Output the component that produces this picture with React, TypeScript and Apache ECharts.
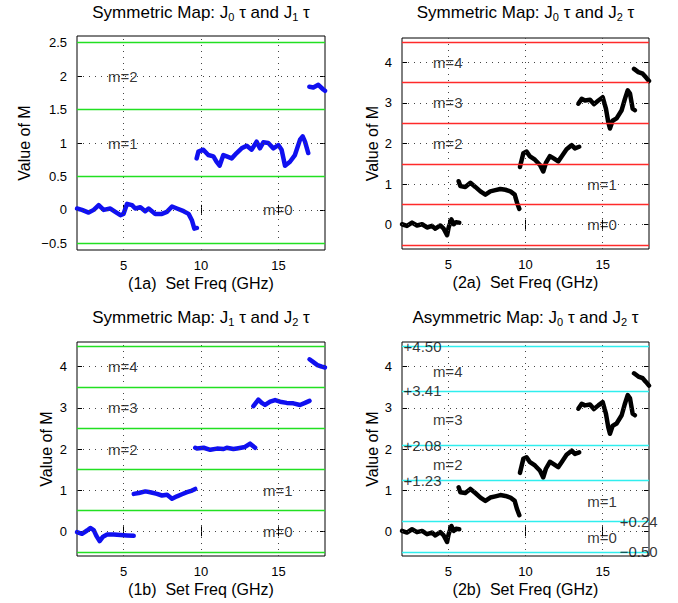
import React, { useEffect, useRef } from "react";
import * as echarts from "echarts";

// ---------- data ----------
const xTicks = [5, 10, 15];

const yTicks1a = [-0.5, 0, 0.5, 1, 1.5, 2, 2.5];
const yTicks4 = [0, 1, 2, 3, 4];

const bounds1a = [-0.5, 0.5, 1.5, 2.5];
const bounds2a = [-0.5, 0.5, 1.5, 2.5, 3.5, 4.5];
const bounds1b = [-0.5, 0.5, 1.5, 2.5, 3.5, 4.5];
const bounds2b = [-0.5, 0.24, 1.23, 2.08, 3.41, 4.5];

const boundLabelsLeft2b: [string, number, number][] = [
  ["+4.50", 2.1, 4.5],
  ["+3.41", 2.1, 3.41],
  ["+2.08", 2.1, 2.08],
  ["+1.23", 2.1, 1.23],
];
const boundLabelsRight2b: [string, number, number][] = [
  ["+0.24", 16.1, 0.24],
  ["\u22120.50", 16.1, -0.5],
];

const mLabels1a: [string, number, number][] = [
  ["m=2", 4, 2],
  ["m=1", 4, 1],
  ["m=0", 14, 0],
];
const mLabels2a: [string, number, number][] = [
  ["m=4", 4, 4],
  ["m=3", 4, 3],
  ["m=2", 4, 2],
  ["m=1", 14, 1],
  ["m=0", 14, 0],
];
const mLabels1b: [string, number, number][] = [
  ["m=4", 4, 4],
  ["m=3", 4, 3],
  ["m=2", 4, 2],
  ["m=1", 14, 1],
  ["m=0", 14, 0],
];
const mLabels2b: [string, number, number][] = [
  ["m=4", 4, 3.88],
  ["m=3", 4, 2.72],
  ["m=2", 4, 1.63],
  ["m=1", 14, 0.72],
  ["m=0", 14, -0.15],
];

// J0 tau & J1 tau (1a)
const seg1a_0 = [[2.0,0.02],[2.32,0.0],[2.75,-0.04],[3.08,0],[3.4,0.07],[3.72,0],[4.15,0.02],[4.47,-0.03],[4.8,-0.08],[5.0,-0.06],[5.23,0.09],[5.55,0.07],[5.76,0.02],[6.09,0.04],[6.4,-0.02],[6.62,0.02],[7.05,-0.06],[7.48,-0.06],[7.8,-0.03],[8.13,0.05],[8.45,0.02],[8.88,-0.02],[9.2,-0.06],[9.42,-0.16],[9.57,-0.28],[9.74,-0.27]];
const seg1a_1 = [[9.72,0.77],[9.83,0.87],[10.15,0.9],[10.47,0.82],[10.8,0.8],[11.0,0.72],[11.2,0.66],[11.44,0.82],[11.66,0.8],[11.98,0.77],[12.3,0.85],[12.62,0.92],[12.95,0.96],[13.27,0.9],[13.59,1.02],[13.8,0.92],[14.02,1.01],[14.34,1.0],[14.67,0.92],[14.99,0.97],[15.2,0.9],[15.42,0.66],[15.74,0.72],[16.06,0.82],[16.39,1.05],[16.56,1.1],[16.71,1.02],[16.92,0.85]];
const seg1a_2 = [[16.99,1.84],[17.25,1.83],[17.57,1.87],[17.89,1.8],[18,1.78]];

// J0 tau & J2 tau (2a, 2b)
const seg2a_0 = [[2.0,0.01],[2.32,-0.03],[2.65,0.05],[2.97,-0.02],[3.3,0.01],[3.62,-0.07],[3.94,-0.03],[4.16,-0.1],[4.48,-0.02],[4.7,-0.1],[4.92,-0.26],[5.02,-0.07],[5.2,0.13],[5.35,0.01],[5.5,0.06],[5.71,0.05]];
const seg2a_1 = [[5.67,1.07],[5.78,0.95],[6.1,0.93],[6.43,1.03],[6.75,0.93],[7.08,0.82],[7.4,0.74],[7.72,0.82],[8.05,0.85],[8.37,0.88],[8.7,0.86],[9.02,0.82],[9.3,0.74],[9.45,0.54],[9.6,0.39]];
const seg2a_2 = [[9.64,1.42],[9.86,1.76],[10.07,1.8],[10.29,1.68],[10.61,1.6],[10.94,1.47],[11.15,1.31],[11.32,1.52],[11.58,1.69],[11.8,1.64],[12.12,1.56],[12.34,1.68],[12.66,1.86],[12.99,1.96],[13.2,1.88],[13.48,1.92]];
const seg2a_3 = [[13.42,2.98],[13.64,3.1],[13.85,3.06],[14.18,3.08],[14.43,2.97],[14.72,3.06],[15.0,3.14],[15.21,2.86],[15.36,2.53],[15.47,2.37],[15.64,2.56],[15.9,2.62],[16.23,2.82],[16.44,3.1],[16.62,3.31],[16.77,3.23],[16.94,2.86],[17.09,2.82]];
const seg2a_4 = [[17.03,3.84],[17.31,3.76],[17.59,3.72],[17.8,3.63],[18,3.54]];

// J1 tau & J2 tau (1b)
const seg1b_0 = [[2.0,-0.02],[2.32,-0.06],[2.65,0.02],[2.86,0.08],[3.08,0.03],[3.25,-0.11],[3.46,-0.24],[3.68,-0.13],[3.94,-0.08],[4.37,-0.08],[4.8,-0.09],[5.23,-0.1],[5.66,-0.11]];
const seg1b_1 = [[5.66,0.91],[5.98,0.93],[6.41,0.97],[6.73,0.95],[7.16,0.91],[7.48,0.87],[7.81,0.89],[8.13,0.79],[8.45,0.85],[8.77,0.9],[9.1,0.95],[9.42,0.99],[9.63,1.03]];
const seg1b_2 = [[9.63,2.03],[9.74,2.01],[10.17,2.03],[10.6,1.98],[11.03,2.01],[11.46,2.0],[11.66,2.03],[12.09,2.0],[12.41,2.02],[12.84,2.05],[13.17,2.13],[13.49,2.03]];
const seg1b_3 = [[13.38,3.04],[13.7,3.2],[13.92,3.12],[14.13,3.07],[14.46,3.15],[14.78,3.19],[15.1,3.15],[15.53,3.12],[15.96,3.11],[16.39,3.07],[16.71,3.12],[17.0,3.17]];
const seg1b_4 = [[17.0,4.18],[17.25,4.11],[17.51,4.04],[17.79,4.0],[18,3.98]];

// ---------- styling ----------
const FONT = "'Liberation Sans', Arial, Helvetica, sans-serif";
const BLUE = "#1010f0";
const BLACK = "#000000";
const GREEN = "#22e022";
const RED = "#ff2a2a";
const CYAN = "#30eeee";

interface Panel {
  title: [string, string, string, string];
  xName: string;
  yMin: number;
  yMax: number;
  yTicks: number[];
  bounds: number[];
  boundColor: string;
  segs: number[][][];
  color: string;
  mLabels: [string, number, number][];
  extraLabels: [string, number, number][];
  grid: { left: number; top: number; width: number; height: number };
  yNameGap: number;
  titleTop: number;
}

const panels: Panel[] = [
  {
    title: ["Symmetric Map: J", "0", " \u03c4 and J", "1"],
    xName: "(1a)  Set Freq (GHz)",
    yMin: -0.6, yMax: 2.6, yTicks: yTicks1a,
    bounds: bounds1a, boundColor: GREEN,
    segs: [seg1a_0, seg1a_1, seg1a_2], color: BLUE,
    mLabels: mLabels1a, extraLabels: [],
    grid: { left: 77, top: 36, width: 248, height: 214 },
    yNameGap: 45, titleTop: 2,
  },
  {
    title: ["Symmetric Map: J", "0", " \u03c4 and J", "2"],
    xName: "(2a)  Set Freq (GHz)",
    yMin: -0.6, yMax: 4.6, yTicks: yTicks4,
    bounds: bounds2a, boundColor: RED,
    segs: [seg2a_0, seg2a_1, seg2a_2, seg2a_3, seg2a_4], color: BLACK,
    mLabels: mLabels2a, extraLabels: [],
    grid: { left: 402, top: 38, width: 247, height: 211 },
    yNameGap: 20, titleTop: 2,
  },
  {
    title: ["Symmetric Map: J", "1", " \u03c4 and J", "2"],
    xName: "(1b)  Set Freq (GHz)",
    yMin: -0.6, yMax: 4.6, yTicks: yTicks4,
    bounds: bounds1b, boundColor: GREEN,
    segs: [seg1b_0, seg1b_1, seg1b_2, seg1b_3, seg1b_4], color: BLUE,
    mLabels: mLabels1b, extraLabels: [],
    grid: { left: 77, top: 342, width: 248, height: 214 },
    yNameGap: 23, titleTop: 307,
  },
  {
    title: ["Asymmetric Map: J", "0", " \u03c4 and J", "2"],
    xName: "(2b)  Set Freq (GHz)",
    yMin: -0.6, yMax: 4.6, yTicks: yTicks4,
    bounds: bounds2b, boundColor: CYAN,
    segs: [seg2a_0, seg2a_1, seg2a_2, seg2a_3, seg2a_4], color: BLACK,
    mLabels: mLabels2b,
    extraLabels: [...boundLabelsLeft2b, ...boundLabelsRight2b],
    grid: { left: 402, top: 342, width: 247, height: 214 },
    yNameGap: 20, titleTop: 307,
  },
];

const fmtY = (v: number) => {
  const r = Math.round(v * 100) / 100;
  return r < 0 ? "\u2212" + String(Math.abs(r)) : String(r);
};

function buildOption() {
  const grid: any[] = [];
  const xAxis: any[] = [];
  const yAxis: any[] = [];
  const title: any[] = [];
  const series: any[] = [];

  panels.forEach((p, i) => {
    grid.push({
      ...p.grid,
      show: true,
      borderColor: "#000",
      borderWidth: 1,
      backgroundColor: "transparent",
      containLabel: false,
    });
    xAxis.push({
      type: "value",
      gridIndex: i,
      min: 2,
      max: 18,
      name: p.xName,
      nameLocation: "middle",
      nameGap: 25,
      nameTextStyle: { fontFamily: FONT, fontSize: 16, color: "#000" },
      axisLine: { show: false },
      splitLine: { show: false },
      axisTick: { show: true, inside: true, length: 5, customValues: xTicks, lineStyle: { color: "#000" } },
      axisLabel: { customValues: xTicks, fontFamily: FONT, fontSize: 13, color: "#000", margin: 9 },
    });
    yAxis.push({
      type: "value",
      gridIndex: i,
      min: p.yMin,
      max: p.yMax,
      name: "Value of M",
      nameLocation: "middle",
      nameGap: p.yNameGap,
      nameTextStyle: { fontFamily: FONT, fontSize: 16, color: "#000" },
      axisLine: { show: false },
      splitLine: { show: false },
      axisTick: { show: true, inside: true, length: 5, customValues: p.yTicks, lineStyle: { color: "#000" } },
      axisLabel: { customValues: p.yTicks, fontFamily: FONT, fontSize: 13, color: "#000", margin: 10, formatter: fmtY },
    });
    const cx = p.grid.left + p.grid.width / 2;
    title.push({
      text: `{t|${p.title[0]}}{s|${p.title[1]}}{t|${p.title[2]}}{s|${p.title[3]}}{t| \u03c4}`,
      left: cx,
      top: p.titleTop,
      padding: 0,
      textAlign: "center",
      textStyle: {
        fontWeight: "normal",
        rich: {
          t: { fontFamily: FONT, fontSize: 17, fontWeight: "normal", color: "#000", lineHeight: 20 },
          s: { fontFamily: FONT, fontSize: 11, fontWeight: "normal", color: "#000", lineHeight: 8, verticalAlign: "bottom" },
        },
      },
    });

    // dotted grid
    series.push({
      type: "line",
      xAxisIndex: i,
      yAxisIndex: i,
      data: [[2, p.yMin]],
      showSymbol: false,
      symbolSize: 0,
      lineStyle: { opacity: 0 },
      silent: true,
      z: 1,
      markLine: {
        silent: true,
        symbol: ["none", "none"],
        label: { show: false },
        lineStyle: { type: [1, 5], color: "#444", width: 1 },
        data: [
          ...xTicks.map((x) => ({ xAxis: x })),
          ...p.yTicks.map((y) => ({ yAxis: y })),
        ],
      },
    });
    // coloured boundary lines
    series.push({
      type: "line",
      xAxisIndex: i,
      yAxisIndex: i,
      data: [[2, p.yMin]],
      showSymbol: false,
      symbolSize: 0,
      lineStyle: { opacity: 0 },
      silent: true,
      z: 2,
      markLine: {
        silent: true,
        symbol: ["none", "none"],
        label: { show: false },
        lineStyle: { type: "solid", color: p.boundColor, width: 1.4 },
        data: p.bounds.map((y) => ({ yAxis: y })),
      },
    });
    // data segments
    p.segs.forEach((seg) => {
      series.push({
        type: "line",
        xAxisIndex: i,
        yAxisIndex: i,
        data: seg,
        showSymbol: false,
        symbol: "none",
        z: 3,
        lineStyle: { color: p.color, width: 4.5, cap: "round", join: "round" },
      });
    });
    // text labels
    const labels = [...p.mLabels, ...p.extraLabels];
    series.push({
      type: "scatter",
      xAxisIndex: i,
      yAxisIndex: i,
      symbolSize: 0,
      silent: true,
      z: 10,
      data: labels.map((l) => ({ value: [l[1], l[2]], name: l[0] })),
      label: {
        show: true,
        position: "right",
        distance: 0,
        formatter: (prm: any) => prm.name,
        fontFamily: FONT,
        fontSize: 15,
        color: "#000",
      },
    });
  });

  // mirrored top / right axes (ticks only, like a boxed plot)
  panels.forEach((p, i) => {
    xAxis.push({
      type: "value",
      gridIndex: i,
      position: "top",
      min: 2,
      max: 18,
      axisLine: { show: false },
      splitLine: { show: false },
      axisLabel: { show: false },
      axisTick: { show: true, inside: true, length: 5, customValues: xTicks, lineStyle: { color: "#000" } },
    });
    yAxis.push({
      type: "value",
      gridIndex: i,
      position: "right",
      min: p.yMin,
      max: p.yMax,
      axisLine: { show: false },
      splitLine: { show: false },
      axisLabel: { show: false },
      axisTick: { show: true, inside: true, length: 5, customValues: p.yTicks, lineStyle: { color: "#000" } },
    });
  });

  return {
    animation: false,
    backgroundColor: "#fff",
    title,
    grid,
    xAxis,
    yAxis,
    series,
  };
}

export default function App() {
  const ref = useRef<HTMLDivElement>(null);
  useEffect(() => {
    if (!ref.current) return;
    const chart = echarts.init(ref.current, null, { renderer: "svg" });
    chart.setOption(buildOption() as any);
    return () => chart.dispose();
  }, []);
  return (
    <div
      ref={ref}
      style={{ position: "absolute", left: 0, top: 0, width: 678, height: 603 }}
    />
  );
}
